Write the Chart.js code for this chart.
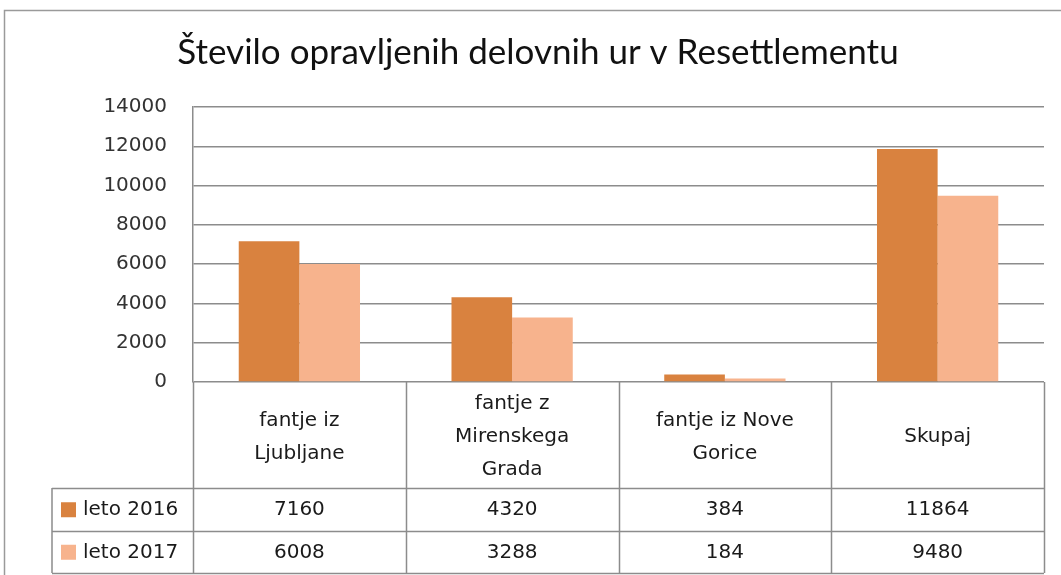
<!DOCTYPE html>
<html>
<head>
<meta charset="utf-8">
<script src="https://cdn.jsdelivr.net/npm/chart.js@4"></script>
<style>
  html, body { margin: 0; padding: 0; background: #fff; }
  #wrap { width: 1061px; height: 575px; }
</style>
</head>
<body>
<div id="wrap"><canvas id="hoursCanvas" width="1061" height="575"></canvas></div>
<script>
// data
const categories = [['fantje iz', 'Ljubljane'], ['fantje z', 'Mirenskega', 'Grada'], ['fantje iz Nove', 'Gorice'], ['Skupaj']];
const seriesNames = ['leto 2016', 'leto 2017'];
const hours2016 = [7160, 4320, 384, 11864];
const hours2017 = [6008, 3288, 184, 9480];
const yTicks = [0, 2000, 4000, 6000, 8000, 10000, 12000, 14000];

const colors = ['#d9823f', '#f7b38d'];
const lineGray = '#8c8c8c';
const tableFont = '20px "DejaVu Sans"';

// frame round the whole chart, like the Excel chart border
const frame = {
    id: 'frame',
    beforeDraw(chart) {
        const ctx = chart.ctx;
        ctx.save();
        ctx.fillStyle = '#fff';
        ctx.fillRect(0, 0, chart.width, chart.height);
        ctx.strokeStyle = '#9a9a9a';
        ctx.lineWidth = 1.5;
        ctx.strokeRect(4.5, 10.5, chart.width + 20, chart.height + 20);
        ctx.restore();
    }
};

// data table under the plot, built from the same arrays
const dataTable = {
    id: 'dataTable',
    afterDraw(chart) {
        const ctx = chart.ctx;
        const area = chart.chartArea;
        const xs = chart.scales.x;
        const n = categories.length;
        const step = (area.right - area.left) / n;
        const headBottom = 488;
        const rowH = 42.5;
        const legendLeft = 52;
        const allSeries = [hours2016, hours2017];

        ctx.save();
        ctx.strokeStyle = lineGray;
        ctx.lineWidth = 1.5;
        ctx.beginPath();
        // vertical lines at category borders
        for (let i = 0; i <= n; i++) {
            const x = Math.round(area.left + i * step) + 0.5;
            ctx.moveTo(x, area.bottom);
            ctx.lineTo(x, headBottom + rowH * 2);
        }
        // legend column left edge
        ctx.moveTo(legendLeft, headBottom);
        ctx.lineTo(legendLeft, headBottom + rowH * 2);
        // horizontal rows
        for (let r = 0; r <= 2; r++) {
            const y = Math.round(headBottom + r * rowH) + 0.5;
            ctx.moveTo(legendLeft, y);
            ctx.lineTo(area.right, y);
        }
        ctx.stroke();

        ctx.fillStyle = '#1a1a1a';
        ctx.font = tableFont;
        ctx.textAlign = 'center';
        ctx.textBaseline = 'middle';
        const headMid = (area.bottom + headBottom) / 2 + 2;
        const lineH = 33;
        categories.forEach((lines, i) => {
            const cx = xs.getPixelForValue(i);
            const y0 = headMid - (lines.length - 1) * lineH / 2;
            lines.forEach((t, k) => ctx.fillText(t, cx, y0 + k * lineH));
        });

        allSeries.forEach((vals, r) => {
            const cy = headBottom + r * rowH + rowH / 2 + 1;
            vals.forEach((v, i) => {
                ctx.fillText(String(v), xs.getPixelForValue(i), cy);
            });
            ctx.fillStyle = colors[r];
            ctx.fillRect(61, cy - 8, 15, 15);
            ctx.fillStyle = '#1a1a1a';
            ctx.textAlign = 'left';
            ctx.fillText(seriesNames[r], 83, cy);
            ctx.textAlign = 'center';
        });
        ctx.restore();
    }
};

const canvas = document.getElementById('hoursCanvas');
const ctx = canvas.getContext('2d');

new Chart(ctx, {
    type: 'bar',
    data: {
        labels: categories,
        datasets: [{
            label: seriesNames[0],
            data: hours2016,
            backgroundColor: colors[0]
        }, {
            label: seriesNames[1],
            data: hours2017,
            backgroundColor: colors[1]
        }]
    },
    options: {
        responsive: false,
        animation: false,
        layout: {
            padding: {top: 10, right: 17, bottom: 193, left: 32}
        },
        datasets: {
            bar: {barPercentage: 1.0, categoryPercentage: 0.57}
        },
        scales: {
            x: {display: false},
            y: {
                min: yTicks[0],
                max: yTicks[yTicks.length - 1],
                afterBuildTicks: (scale) => {
                    scale.ticks = yTicks.map(v => ({value: v}));
                },
                afterFit: (scale) => { scale.width = 161; },
                ticks: {
                    padding: 26,
                    color: '#333',
                    font: {family: 'DejaVu Sans', size: 20},
                    callback: (v) => String(v)
                },
                grid: {color: lineGray, lineWidth: 1.5, drawTicks: false},
                border: {display: true, color: lineGray, width: 1.5}
            }
        },
        plugins: {
            legend: {display: false},
            tooltip: {enabled: false},
            title: {
                display: true,
                text: 'Število opravljenih delovnih ur v Resettlementu',
                color: '#111',
                font: {family: 'Lato', size: 35, weight: 'normal'},
                padding: {top: 22, bottom: 33}
            }
        }
    },
    plugins: [frame, dataTable]
});
</script>
</body>
</html>
